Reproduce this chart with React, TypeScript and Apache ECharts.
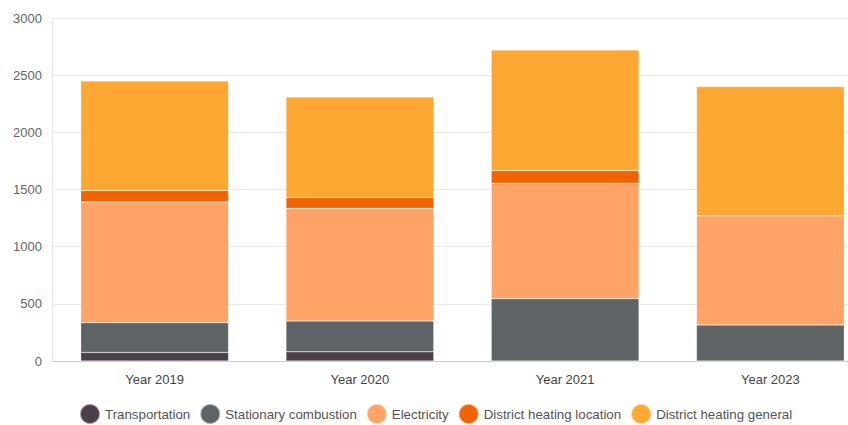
import React, { useEffect, useRef } from "react";
import * as echarts from "echarts";

const categories = ["Year 2019", "Year 2020", "Year 2021", "Year 2023"];
const seriesNames = [
  "Transportation",
  "Stationary combustion",
  "Electricity",
  "District heating location",
  "District heating general",
];
const transportation = [75, 80, 0, 0];
const stationary = [260, 270, 545, 315];
const electricity = [1055, 985, 1010, 955];
const heatingLocation = [100, 95, 110, 0];
const heatingGeneral = [960, 880, 1055, 1130];
const colors = ["#4b3f4b", "#5e6365", "#ffa366", "#f26200", "#ffa733"];
const yTicks = { min: 0, max: 3000, interval: 500 };

export default function App() {
  const ref = useRef<HTMLDivElement>(null);
  useEffect(() => {
    if (!ref.current) return;
    const chart = echarts.init(ref.current, null, { renderer: "svg" });
    const values = [transportation, stationary, electricity, heatingLocation, heatingGeneral];
    chart.setOption({
      animation: false,
      textStyle: { fontFamily: "Liberation Sans, Arial, sans-serif" },
      grid: { left: 52, right: 7, top: 18, bottom: 64 },
      legend: {
        data: seriesNames,
        left: 74,
        top: 398,
        icon: "circle",
        itemWidth: 20,
        itemHeight: 20,
        itemGap: 9,
        textStyle: { color: "#555", fontSize: 13.3 },
      },
      xAxis: {
        type: "category",
        data: categories,
        axisLine: { lineStyle: { color: "#ccc" } },
        axisTick: { show: false },
        axisLabel: { color: "#444", fontSize: 13, margin: 12 },
      },
      yAxis: {
        type: "value",
        min: yTicks.min,
        max: yTicks.max,
        interval: yTicks.interval,
        axisLine: { show: true, lineStyle: { color: "#e6e6e6" } },
        axisLabel: { color: "#666", fontSize: 13, margin: 10, formatter: (v: number) => String(v) },
        splitLine: { lineStyle: { color: "#ebebeb" } },
      },
      series: seriesNames.map((name, i) => ({
        name,
        type: "bar",
        stack: "total",
        barWidth: "72%",
        data: values[i],
        itemStyle: { color: colors[i], borderColor: "rgba(255,255,255,0.5)", borderWidth: 0.5 },
      })),
    });
    return () => chart.dispose();
  }, []);
  return (
    <div style={{ position: "fixed", left: 0, top: 0, width: 848, height: 425, overflow: "hidden", background: "#fff" }}>
      <div ref={ref} style={{ width: 880, height: 425 }} />
    </div>
  );
}
